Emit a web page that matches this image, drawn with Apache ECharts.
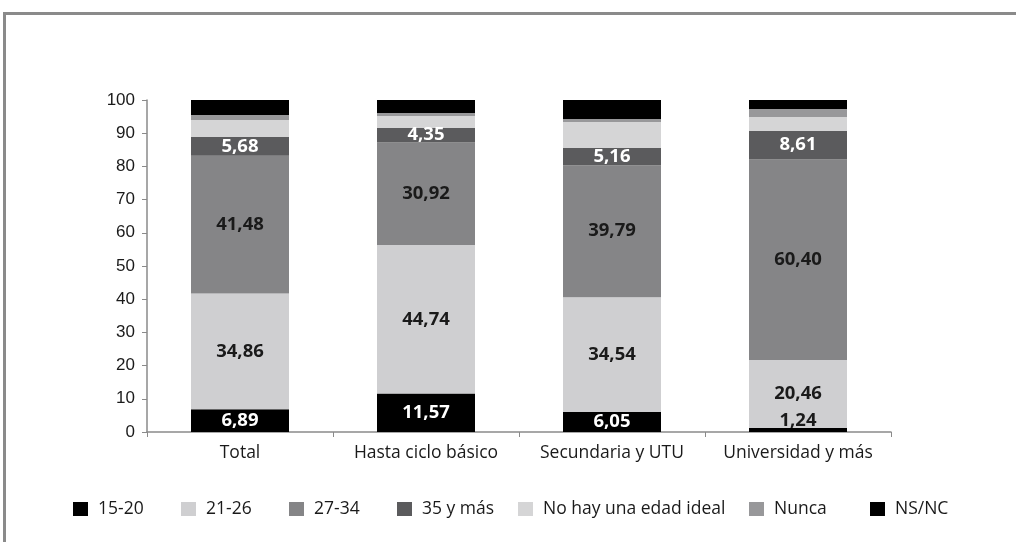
<!DOCTYPE html>
<html><head><meta charset="utf-8">
<script src="https://cdn.jsdelivr.net/npm/echarts@6/dist/echarts.min.js"></script>
<style>html,body{margin:0;padding:0;background:#fff}#c{width:1016px;height:542px}</style>
</head><body><div id="c"></div>
<script>
const categories = ['Total', 'Hasta ciclo básico', 'Secundaria y UTU', 'Universidad y más'];
const seriesNames = ['15-20', '21-26', '27-34', '35 y más', 'No hay una edad ideal', 'Nunca', 'NS/NC'];
const v1520 = [6.89, 11.57, 6.05, 1.24];
const v2126 = [34.86, 44.74, 34.54, 20.46];
const v2734 = [41.48, 30.92, 39.79, 60.40];
const v35 = [5.68, 4.35, 5.16, 8.61];
const vNoHay = [5.06, 3.60, 7.83, 4.20];
const vNunca = [1.50, 0.90, 0.90, 2.40];
const vNsnc = [4.53, 3.92, 5.73, 2.69];
const yTicks = [0, 10, 20, 30, 40, 50, 60, 70, 80, 90, 100];

const values = [v1520, v2126, v2734, v35, vNoHay, vNunca, vNsnc];
const colors = ['#000000', '#cfcfd1', '#858587', '#5b5b5d', '#d5d5d6', '#98989a', '#000000'];
const labelColors = ['#ffffff', '#1a1a1a', '#1a1a1a', '#ffffff', null, null, null];
const legendLeft = [68, 176, 284, 392, 513, 744, 865];

const fmt = v => v.toFixed(2).replace('.', ',');

const series = values.map((arr, i) => ({
  name: seriesNames[i],
  type: 'bar',
  stack: 'a',
  barWidth: 98,
  itemStyle: { color: colors[i] },
  label: {
    show: labelColors[i] !== null,
    position: 'inside',
    color: labelColors[i] || '#000',
    fontFamily: 'Open Sans',
    fontWeight: 'bold',
    fontSize: 18.5,
    formatter: p => fmt(p.value)
  },
  data: arr.map((v, j) => {
    if (i === 0 && v < 3) {
      return { value: v, label: { position: 'top', distance: -2, color: '#1a1a1a' } };
    }
    return v;
  })
}));

const chart = echarts.init(document.getElementById('c'));
chart.setOption({
  animation: false,
  backgroundColor: '#fff',
  graphic: [{
    type: 'rect', shape: { x: 4.5, y: 13.5, width: 1200, height: 700 },
    style: { fill: 'none', stroke: '#8a8a8a', lineWidth: 3 }, silent: true
  }],
  grid: { left: 147, right: 125, top: 100, bottom: 110 },
  legend: seriesNames.map((n, i) => ({
    data: [n], left: legendLeft[i], top: 495, itemWidth: 15, itemHeight: 14, itemGap: 0,
    icon: 'rect',
    textStyle: { fontFamily: 'Open Sans', fontSize: 17.5, color: '#1a1a1a', padding: [0, 0, 0, 5] }
  })),
  xAxis: {
    type: 'category', data: categories,
    axisLine: { lineStyle: { color: '#8a8a8a', width: 1.5 } },
    axisTick: { show: true, interval: 0, length: 5, lineStyle: { color: '#8a8a8a' } },
    axisLabel: { interval: 0, fontFamily: 'Open Sans', fontSize: 17.5, color: '#1a1a1a', margin: 12 }
  },
  yAxis: {
    type: 'value', min: 0, max: 100, interval: 10,
    axisLine: { show: true, lineStyle: { color: '#8a8a8a', width: 1.5 } },
    axisTick: { show: true, inside: false, length: 5, lineStyle: { color: '#8a8a8a' } },
    splitLine: { show: false },
    axisLabel: { fontFamily: 'Liberation Sans', fontSize: 17, color: '#1a1a1a', margin: 12,
      formatter: v => yTicks.includes(v) ? String(v) : '' }
  },
  series: series
});
</script></body></html>
